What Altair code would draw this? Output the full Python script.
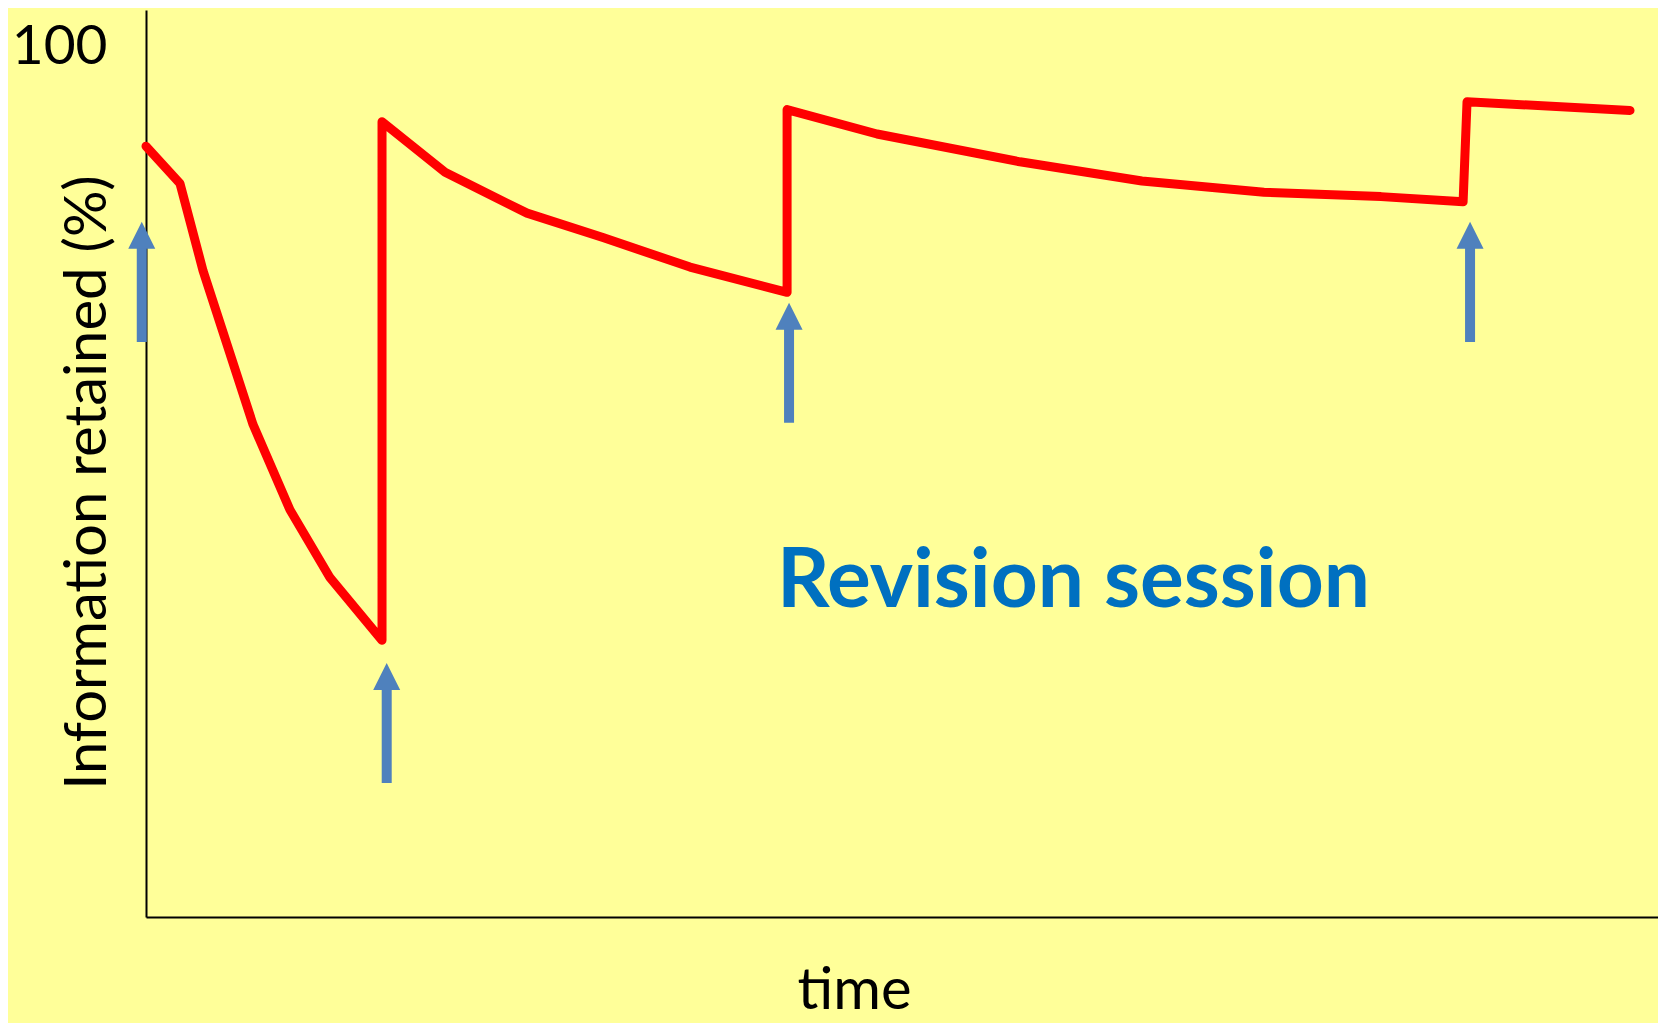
import altair as alt
import pandas as pd

# Retention curve (time in arbitrary units 0-100, retention in %)
curve_time = [0.0, 2.25, 3.77, 7.08, 9.52, 12.17, 15.61, 15.61, 19.78, 25.20, 30.22, 35.98,
              42.40, 42.40, 48.35, 57.80, 65.87, 73.94, 81.68, 87.11, 87.37, 98.15]
curve_retained = [88.6, 84.3, 74.3, 56.6, 46.8, 39.0, 31.8, 91.4, 85.6, 80.9, 78.1, 74.7,
                  71.8, 92.8, 90.0, 86.8, 84.6, 83.3, 82.8, 82.2, 93.7, 92.7]

# Revision-session arrows
arrow_time = [-0.28, 15.92, 42.53, 87.57]
arrow_tip = [79.9, 29.2, 70.6, 79.9]
arrow_tail = [66.1, 15.4, 56.8, 66.1]

label_text = ["Revision session"]
label_time = [41.73]
label_retained = [35.6]

y_ticks = [100]

FONT = "Lato"
BG = "#FFFF99"
BLUE = "#4F81BD"

curve_df = pd.DataFrame({"i": list(range(len(curve_time))), "t": curve_time, "r": curve_retained})
arrow_df = pd.DataFrame({"t": arrow_time, "tip": arrow_tip, "tail": arrow_tail})
label_df = pd.DataFrame({"t": label_time, "r": label_retained, "text": label_text})

x_scale = alt.Scale(domain=[0, 100], nice=False, zero=False)
y_scale = alt.Scale(domain=[0, 104.25], nice=False, zero=False)

x_axis = alt.Axis(labels=False, ticks=False, grid=False, domain=True,
                  title="time", titleFont=FONT, titleFontSize=58, titleFontWeight="normal",
                  titleColor="black", titleX=708, titleY=91, titleAlign="center",
                  titleBaseline="alphabetic")
y_axis = alt.Axis(values=y_ticks, ticks=False, grid=False, domain=True,
                  labelFont=FONT, labelFontSize=55, labelColor="black", labelPadding=39,
                  labelBaseline="middle",
                  title="Information retained (%)", titleFont=FONT, titleFontSize=58,
                  titleFontWeight="normal", titleColor="black", titleAngle=270,
                  titleX=-41, titleY=472, titleAlign="center", titleBaseline="alphabetic")

line = alt.Chart(curve_df).mark_line(color="#FF0000", strokeWidth=9, strokeJoin="round",
                                     strokeCap="round").encode(
    x=alt.X("t:Q", scale=x_scale, axis=x_axis),
    y=alt.Y("r:Q", scale=y_scale, axis=y_axis),
    order=alt.Order("i:Q"),
)

shaft = alt.Chart(arrow_df).mark_rule(color=BLUE, strokeWidth=10, y2Offset=20).encode(
    x=alt.X("t:Q", scale=x_scale),
    y=alt.Y("tail:Q", scale=y_scale),
    y2="tip:Q",
)

head = alt.Chart(arrow_df).mark_point(shape="M-1,2L0,0L1,2Z", size=729, filled=True,
                                      fill=BLUE, color=BLUE, opacity=1, strokeWidth=0).encode(
    x=alt.X("t:Q", scale=x_scale),
    y=alt.Y("tip:Q", scale=y_scale),
)

label = alt.Chart(label_df).mark_text(font=FONT, fontSize=82, fontWeight="bold", color="#0070C0",
                                      align="left", baseline="alphabetic").encode(
    x=alt.X("t:Q", scale=x_scale),
    y=alt.Y("r:Q", scale=y_scale),
    text="text:N",
)

chart = alt.layer(line, shaft, head, label).properties(
    width=1512, height=907,
    autosize=alt.AutoSizeParams(type="none"),
    padding={"left": 138, "top": 2, "right": 0, "bottom": 106},
    background=BG,
).configure_view(stroke=None).configure_axis(domainColor="black", domainWidth=2)

chart.save("out.html", embed_options={"renderer": "svg", "actions": False})
